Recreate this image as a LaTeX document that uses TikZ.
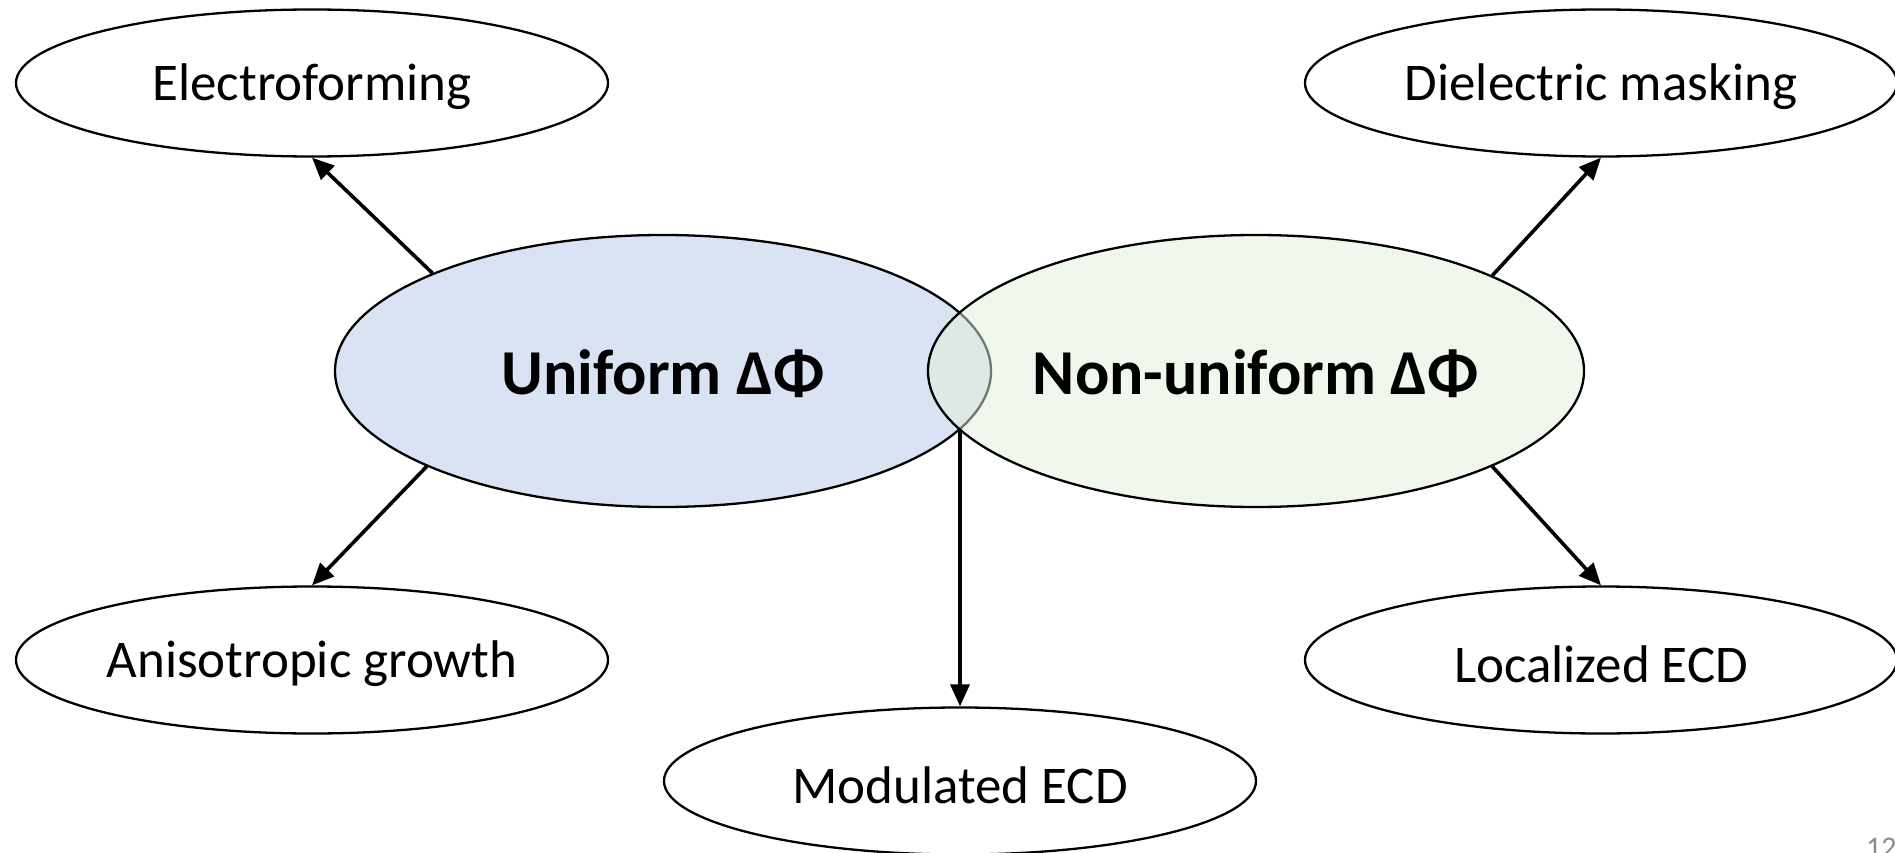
\documentclass[tikz,border=0pt]{standalone}
\usepackage{fontspec}
\setmainfont{Carlito}
\usetikzlibrary{shapes.geometric,arrows.meta}
\definecolor{ublue}{HTML}{DAE3F3}
\definecolor{ngreen}{HTML}{E2F0D9}
\definecolor{pgnum}{HTML}{8C8C8C}
\tikzset{
  leaf/.style={ellipse, draw=black, line width=2.3pt, fill=white, minimum width=592pt, minimum height=147pt, inner sep=0pt, font=\fontsize{53}{60}\selectfont},
  leaftext/.style={font=\fontsize{53}{60}\selectfont, inner sep=0pt},
  big/.style={ellipse, draw=black, line width=2.3pt, minimum width=656pt, minimum height=272pt, inner sep=0pt},
  bigtext/.style={font=\fontsize{64}{72}\selectfont\bfseries, inner sep=0pt},
  arr/.style={line width=3.6pt, -{Triangle[length=22pt,width=19pt]}}
}
\begin{document}
\begin{tikzpicture}[x=1pt,y=-1pt]
\useasboundingbox (0,0) rectangle (1895,853);
\node[big, fill=ublue] (uni) at (663,371) {};
\node[big, fill=ngreen, fill opacity=0.5] (non) at (1256,371) {};
\node[bigtext] (unit) at (663,374) {Uniform ΔΦ};
\node[bigtext] (nont) at (1256,374) {Non-uniform ΔΦ};
\node[leaf] (elec) at (312,83) {};
\node[leaf] (diel) at (1601,83) {};
\node[leaf] (aniso) at (312,660) {};
\node[leaf] (loc) at (1601,660) {};
\node[leaf] (mod) at (960,781) {};
\node[leaftext] (elect) at (312,87) {Electroforming};
\node[leaftext] (dielt) at (1601,87) {Dielectric masking};
\node[leaftext] (anisot) at (312,664) {Anisotropic growth};
\node[leaftext] (loct) at (1601,664) {Localized ECD};
\node[leaftext] (modt) at (960,785) {Modulated ECD};
\coordinate (lens) at (960,429);
\draw[arr] (uni.157.3) -- (elec.south);
\draw[arr] (uni.202.7) -- (aniso.north);
\draw[arr] (non.22.7) -- (diel.south);
\draw[arr] (non.-22.7) -- (loc.north);
\draw[arr] (lens) -- (mod.north);
\node[anchor=north west, inner sep=0pt, text=pgnum, font=\fontsize{30}{34}\selectfont] (pg) at (1866,838) {12};
\end{tikzpicture}
\end{document}
